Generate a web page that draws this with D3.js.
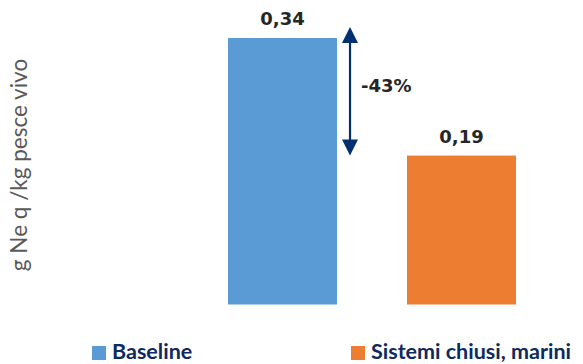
<!DOCTYPE html>
<html>
<head>
<meta charset="utf-8">
<script src="https://cdn.jsdelivr.net/npm/d3@7/dist/d3.min.js"></script>
<style>
  html, body { margin: 0; padding: 0; background: #ffffff; }
  svg { display: block; }
</style>
</head>
<body>
<svg id="chart" width="583" height="364"></svg>
<script>
// Nitrogen emitted per kg of live fish
const categories = ["Baseline", "Sistemi chiusi, marini"];
const values = [0.34, 0.19];
const valueLabels = ["0,34", "0,19"];
const colors = ["#5B9BD5", "#ED7D31"];
const changeLabel = "-43%";
const yTitle = "g Ne q /kg pesce vivo";

const svg = d3.select("#chart");

const x = d3.scaleBand()
  .domain(categories)
  .range([228, 516])
  .paddingInner(0.391)
  .paddingOuter(0);

const y = d3.scaleLinear()
  .domain([0, 0.34])
  .range([304.5, 38]);

// Bars
svg.append("g").selectAll("rect")
  .data(categories)
  .join("rect")
  .attr("x", d => x(d))
  .attr("y", (d, i) => y(values[i]))
  .attr("width", x.bandwidth())
  .attr("height", (d, i) => y(0) - y(values[i]))
  .attr("fill", (d, i) => colors[i]);

// Value labels
svg.append("g").selectAll("text")
  .data(categories)
  .join("text")
  .attr("x", d => x(d) + x.bandwidth() / 2)
  .attr("y", (d, i) => y(values[i]) - 13)
  .attr("text-anchor", "middle")
  .attr("font-family", "DejaVu Sans, Verdana, sans-serif")
  .attr("font-weight", "bold")
  .attr("font-size", 18)
  .attr("fill", "#262626")
  .text((d, i) => valueLabels[i]);

// Double-headed arrow marking the reduction
const ax = x(categories[0]) + x.bandwidth() + 13;
const yTop = y(values[0]) - 11;
const yBot = y(values[1]);
const head = 16, halfW = 8;
const arrow = svg.append("g").attr("fill", "#003070").attr("stroke", "#003070");
arrow.append("line")
  .attr("x1", ax).attr("x2", ax)
  .attr("y1", yTop + head - 2).attr("y2", yBot - head + 2)
  .attr("stroke-width", 2.2);
arrow.append("path")
  .attr("stroke", "none")
  .attr("d", `M${ax},${yTop} L${ax + halfW},${yTop + head} L${ax - halfW},${yTop + head} Z`);
arrow.append("path")
  .attr("stroke", "none")
  .attr("d", `M${ax},${yBot} L${ax + halfW},${yBot - head} L${ax - halfW},${yBot - head} Z`);

svg.append("text")
  .attr("x", ax + 11)
  .attr("y", 92)
  .attr("font-family", "DejaVu Sans, Verdana, sans-serif")
  .attr("font-weight", "bold")
  .attr("font-size", 18)
  .attr("fill", "#262626")
  .text(changeLabel);

// Y axis title
svg.append("text")
  .attr("transform", "translate(27,165) rotate(-90)")
  .attr("text-anchor", "middle")
  .attr("font-family", "Lato, 'Open Sans', sans-serif")
  .attr("font-size", 22.5)
  .attr("fill", "#595959")
  .text(yTitle);

// Legend
const legendX = [92, 351];
const legend = svg.append("g").selectAll("g")
  .data(categories)
  .join("g")
  .attr("transform", (d, i) => `translate(${legendX[i]},346)`);
legend.append("rect")
  .attr("width", 14).attr("height", 14)
  .attr("fill", (d, i) => colors[i]);
legend.append("text")
  .attr("x", 20)
  .attr("y", 13)
  .attr("font-family", "Lato, sans-serif")
  .attr("font-weight", "bold")
  .attr("font-size", 21.5)
  .attr("fill", "#0E2A5E")
  .text(d => d);
</script>
</body>
</html>
